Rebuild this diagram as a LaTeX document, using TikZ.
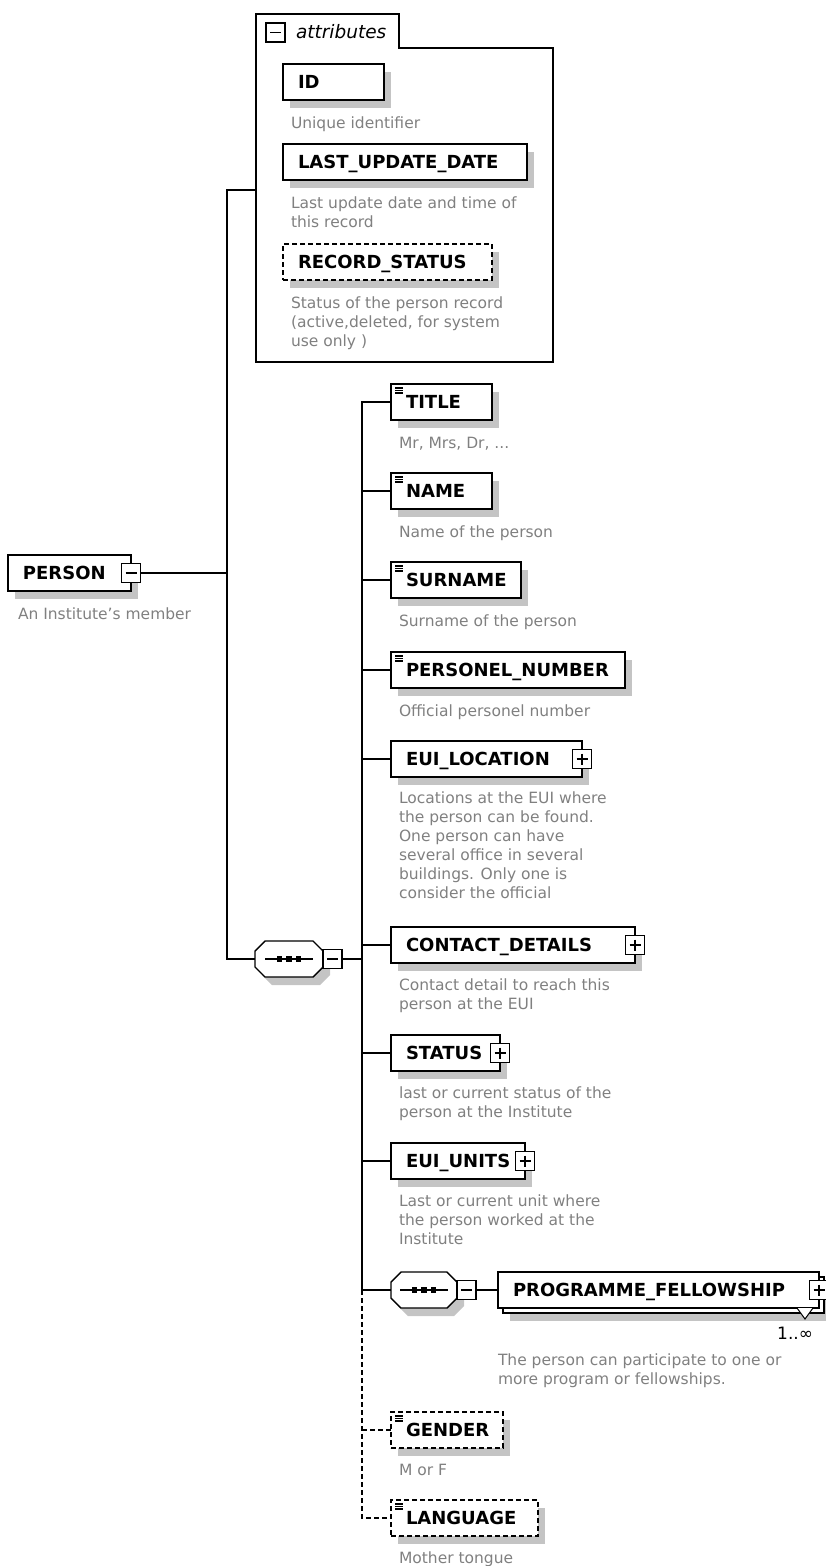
\documentclass[tikz,border=0pt]{standalone}
\usepackage{fontspec}
\setmainfont{DejaVu Sans}
\usetikzlibrary{shadows,calc}

\definecolor{descgray}{RGB}{128,128,128}
\definecolor{shadegray}{RGB}{196,196,196}

% octagonal "sequence" compositor drawn around a named placeholder node
\newcommand\seqicon[1]{%
  \draw[fill=white,shade]
    ([xshift=10pt]#1.north west) -- ([xshift=-10pt]#1.north east)
    -- ([yshift=-10pt]#1.north east) -- ([yshift=10pt]#1.south east)
    -- ([xshift=-10pt]#1.south east) -- ([xshift=10pt]#1.south west)
    -- ([yshift=10pt]#1.south west) -- ([yshift=-10pt]#1.north west) -- cycle;
  \draw[line width=1.2pt] ([xshift=-24pt]#1.center) -- ([xshift=24pt]#1.center);
  \foreach \s in {-9.5,0,9.5}
    \fill ([xshift=\s pt]#1.center) ++(-2.75pt,-2.75pt) rectangle ++(5.5pt,5.5pt);
}

\begin{document}
\begin{tikzpicture}[x=1pt,y=-1pt,line width=1.4pt,
  every node/.style={inner sep=0pt,outer sep=0pt},
  shade/.style={general shadow={fill=shadegray,shadow xshift=7pt,shadow yshift=-8pt}},
  box/.style={draw,fill=white,anchor=west,minimum height=36pt,inner xsep=15pt,
    text width=#1,align=left,text height=13pt,text depth=0pt,
    font=\fontsize{18}{20}\selectfont\bfseries},
  elem/.style={box=#1,shade},
  opt/.style={dash pattern=on 5pt off 3pt},
  simple/.style={path picture={
    \foreach \d in {4,6.5,9}
      \draw[solid,line width=1.2pt] ([xshift=4pt,yshift=-\d pt]path picture bounding box.north west) -- ++(8pt,0pt);}},
  tog/.style={draw,solid,fill=white,minimum size=19pt,line width=1.2pt},
  minus/.style={tog,path picture={
    \draw[line width=1.2pt] ([xshift=4pt]path picture bounding box.west) -- ([xshift=-4pt]path picture bounding box.east);}},
  plus/.style={tog,path picture={
    \draw[line width=1.2pt] ([xshift=4pt]path picture bounding box.west) -- ([xshift=-4pt]path picture bounding box.east);
    \draw[line width=1.2pt] ([yshift=-4pt]path picture bounding box.north) -- ([yshift=4pt]path picture bounding box.south);}},
  desc/.style={anchor=north west,align=left,text=descgray,font=\fontsize{15.5}{19}\selectfont},
  seqnode/.style={minimum width=#1,minimum height=36pt},
]
\useasboundingbox (0,0) rectangle (825,1566);

% ---- root element
\node[elem=93pt] (person) at (8,573) {PERSON};
\node[minus] (pmin) at (person.east) {};
\node[desc] at ([xshift=10pt,yshift=-17pt]person.south west) {An Institute's member};

% ---- attribute group
\node[minimum width=297pt,minimum height=348pt,anchor=north west] (attrs) at (256,14) {};
\draw (attrs.south west) -- (attrs.north west) -- ++(143,0) -- ++(0,34) -| (attrs.south east) -- cycle;
\node[minus] (amin) at (275.5,32.5) {};
\node[anchor=west,font=\fontsize{18.5}{20}\selectfont\itshape] (atitle) at (296,32) {attributes};

\node[elem=71pt] (id) at (283,82) {ID};
\node[desc] at ([xshift=8pt,yshift=-17pt]id.south west) {Unique identifier};
\node[elem=214pt] (lud) at (283,162) {LAST\_UPDATE\_DATE};
\node[desc] at ([xshift=8pt,yshift=-17pt]lud.south west) {Last update date and time of\\this record};
\node[elem=179pt,opt] (rst) at (283,262) {RECORD\_STATUS};
\node[desc] at ([xshift=8pt,yshift=-17pt]rst.south west) {Status of the person record\\(active,deleted, for system\\use only )};

% ---- main sequence
\node[seqnode=68pt] (seq1) at (289,959) {};
\seqicon{seq1}
\node[minus] (s1min) at ([xshift=9.5pt]seq1.east) {};

% ---- children of the sequence
\coordinate (bus) at (362,402);
\node[elem=71pt,simple] (title) at (391,402) {TITLE};
\node[desc] at ([xshift=8pt,yshift=-17pt]title.south west) {Mr, Mrs, Dr, ...};
\node[elem=71pt,simple] (name) at (391,491) {NAME};
\node[desc] at ([xshift=8pt,yshift=-17pt]name.south west) {Name of the person};
\node[elem=100pt,simple] (surname) at (391,580) {SURNAME};
\node[desc] at ([xshift=8pt,yshift=-17pt]surname.south west) {Surname of the person};
\node[elem=204pt,simple] (pnum) at (391,670) {PERSONEL\_NUMBER};
\node[desc] at ([xshift=8pt,yshift=-17pt]pnum.south west) {Official personel number};
\node[elem=161pt] (loc) at (391,759) {EUI\_LOCATION};
\node[plus] at (loc.east) {};
\node[desc] at ([xshift=8pt,yshift=-15pt]loc.south west) {Locations at the EUI where\\the person can be found.\\One person can have\\several office in several\\buildings. Only one is\\consider the official};
\node[elem=214pt] (contact) at (391,945) {CONTACT\_DETAILS};
\node[plus] at (contact.east) {};
\node[desc] at ([xshift=8pt,yshift=-16pt]contact.south west) {Contact detail to reach this\\person at the EUI};
\node[elem=79pt] (status) at (391,1053) {STATUS};
\node[plus] at (status.east) {};
\node[desc] at ([xshift=8pt,yshift=-16pt]status.south west) {last or current status of the\\person at the Institute};
\node[elem=104pt] (units) at (391,1161) {EUI\_UNITS};
\node[plus] at (units.east) {};
\node[desc] at ([xshift=8pt,yshift=-16pt]units.south west) {Last or current unit where\\the person worked at the\\Institute};

% ---- nested sequence with repeated element
\node[seqnode=66pt] (seq2) at (424,1290) {};
\seqicon{seq2}
\node[minus] (s2min) at ([xshift=9.5pt]seq2.east) {};
\node[elem=291pt] (progback) at (503,1295) {};
\node[box=291pt] (prog) at (498,1290) {PROGRAMME\_FELLOWSHIP};
\node[plus] at (prog.east) {};
\draw[line width=1pt,fill=white] ([xshift=-22pt]prog.south east) -- ([xshift=-14pt,yshift=-11pt]prog.south east) -- ([xshift=-6pt]prog.south east);
\node[anchor=east,font=\fontsize{17}{19}\selectfont] (card) at (813,1333) {1..∞};
\node[desc] at ([yshift=-46pt]prog.south west) {The person can participate to one or\\more program or fellowships.};

% ---- optional elements
\node[elem=82pt,opt,simple] (gender) at (391,1430) {GENDER};
\node[desc] at ([xshift=8pt,yshift=-16pt]gender.south west) {M or F};
\node[elem=117pt,opt,simple] (lang) at (391,1518) {LANGUAGE};
\node[desc] at ([xshift=8pt,yshift=-16pt]lang.south west) {Mother tongue};

% ---- connectors
\coordinate (trunk) at (227,190);
\draw (attrs.west |- trunk) -- (trunk) -- (trunk |- seq1.west) -- (seq1.west);
\draw (pmin.east) -- (pmin.east -| trunk);
\draw (s1min.east) -- (s1min.east -| bus);
\draw (title.west) -- (bus) -- (bus |- seq2.west) -- (seq2.west);
\foreach \n in {name,surname,pnum,loc,contact,status,units}
  \draw (\n.west) -- (\n.west -| bus);
\draw (s2min.east) -- (prog.west);
\draw[opt] (bus |- seq2.west) -- (bus |- lang.west) -- (lang.west);
\draw[opt] (bus |- gender.west) -- (gender.west);
\end{tikzpicture}
\end{document}
